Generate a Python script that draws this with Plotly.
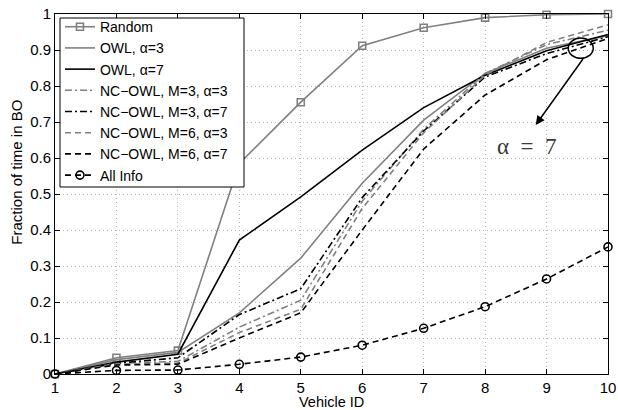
import plotly.graph_objects as go

vehicle_id = [1, 2, 3, 4, 5, 6, 7, 8, 9, 10]

random_vals = [0.0, 0.045, 0.065, 0.585, 0.755, 0.912, 0.962, 0.99, 0.998, 1.0]
owl_a3 = [0.0, 0.04, 0.06, 0.17, 0.322, 0.53, 0.705, 0.835, 0.905, 0.94]
owl_a7 = [0.0, 0.033, 0.055, 0.372, 0.492, 0.622, 0.74, 0.83, 0.898, 0.943]
nc_m3_a3 = [0.0, 0.03, 0.035, 0.13, 0.205, 0.48, 0.68, 0.835, 0.915, 0.955]
nc_m3_a7 = [0.0, 0.03, 0.045, 0.165, 0.237, 0.49, 0.675, 0.825, 0.89, 0.937]
nc_m6_a3 = [0.0, 0.028, 0.03, 0.115, 0.18, 0.46, 0.67, 0.83, 0.921, 0.97]
nc_m6_a7 = [0.0, 0.025, 0.027, 0.1, 0.17, 0.4, 0.625, 0.775, 0.873, 0.932]
all_info = [0.0, 0.01, 0.011, 0.027, 0.047, 0.08, 0.127, 0.187, 0.264, 0.353]

x_ticks = [1, 2, 3, 4, 5, 6, 7, 8, 9, 10]
y_ticks = [0, 0.1, 0.2, 0.3, 0.4, 0.5, 0.6, 0.7, 0.8, 0.9, 1]
y_tick_labels = ["0", "0.1", "0.2", "0.3", "0.4", "0.5", "0.6", "0.7", "0.8", "0.9", "1"]

GRAY = "#808080"
BLACK = "#000000"
DASH = "6px,4px"
DASHDOT = "7px,3px,2px,3px"
LW = 1.6
FONT = "Liberation Sans, Arial"

series = [
    ("Random", random_vals, GRAY, "solid", "lines+markers", "square-open", 7),
    ("OWL, α=3", owl_a3, GRAY, "solid", "lines", None, 0),
    ("OWL, α=7", owl_a7, BLACK, "solid", "lines", None, 0),
    ("NC−OWL, M=3, α=3", nc_m3_a3, GRAY, DASHDOT, "lines", None, 0),
    ("NC−OWL, M=3, α=7", nc_m3_a7, BLACK, DASHDOT, "lines", None, 0),
    ("NC−OWL, M=6, α=3", nc_m6_a3, GRAY, DASH, "lines", None, 0),
    ("NC−OWL, M=6, α=7", nc_m6_a7, BLACK, DASH, "lines", None, 0),
    ("All Info", all_info, BLACK, DASH, "lines+markers", "circle-open", 8),
]

fig = go.Figure()
for name, vals, color, dash, mode, sym, size in series:
    kw = dict(x=vehicle_id, y=vals, name=name, mode=mode,
              line=dict(color=color, width=LW, dash=dash), cliponaxis=False)
    if sym:
        kw["marker"] = dict(symbol=sym, size=size, color=color, line=dict(width=1.6, color=color))
    fig.add_trace(go.Scatter(**kw))

axis_common = dict(
    showline=True, linecolor="black", linewidth=1, mirror="ticks",
    ticks="inside", ticklen=5, tickcolor="black", tickwidth=1,
    showgrid=True, gridcolor="#b5b5b5", griddash="1px,3px", gridwidth=1,
    zeroline=False, automargin=False,
    tickfont=dict(family=FONT, size=15, color="black"),
)

fig.update_xaxes(range=[1, 10], tickvals=x_ticks, ticktext=[str(v) for v in x_ticks], **axis_common)
fig.update_yaxes(range=[0, 1], tickvals=y_ticks, ticktext=y_tick_labels, **axis_common)

# axis titles as annotations
fig.add_annotation(xref="paper", yref="paper", x=0.5, y=(374 - 402) / 360, text="Vehicle ID",
                   showarrow=False, xanchor="center", yanchor="middle", borderpad=0,
                   font=dict(family=FONT, size=14.5, color="black"))
fig.add_annotation(xref="paper", yref="paper", x=-0.07, y=0.56, text="Fraction of time in BO",
                   textangle=-90, showarrow=False, xanchor="center", yanchor="middle",
                   font=dict(family=FONT, size=15, color="black"))

# legend box (white, hides lines beneath)
fig.add_shape(type="rect", xref="paper", yref="paper",
              x0=(60 - 55) / 553, x1=(244 - 55) / 553,
              y0=(374 - 187) / 360, y1=(374 - 18) / 360,
              fillcolor="white", line=dict(color="black", width=1), layer="above")

# ellipse
fig.add_shape(type="circle", xref="x", yref="y", x0=9.353, x1=9.76, y0=0.877, y1=0.933,
              line=dict(color="black", width=1.5))
# arrow
fig.add_annotation(x=8.824, y=0.692, ax=9.61, ay=0.879, xref="x", yref="y", axref="x", ayref="y",
                   text="", showarrow=True, arrowhead=2, arrowsize=1.2, arrowwidth=1.5, arrowcolor="black")
# text
fig.add_annotation(x=8.674, y=0.633, xref="x", yref="y", text="α  =  7", showarrow=False,
                   font=dict(family="Liberation Serif, Times New Roman", size=23, color="#3a3a3a"))

fig.update_layout(
    width=618, height=410,
    margin=dict(l=55, r=10, t=14, b=36),
    paper_bgcolor="white", plot_bgcolor="white",
    showlegend=True,
    legend=dict(x=0.009, y=1.008, xanchor="left", yanchor="top",
                bgcolor="rgba(0,0,0,0)", borderwidth=0,
                font=dict(family=FONT, size=14, color="black"),
                itemwidth=30, tracegroupgap=0),
)

fig.write_html("out.html")
